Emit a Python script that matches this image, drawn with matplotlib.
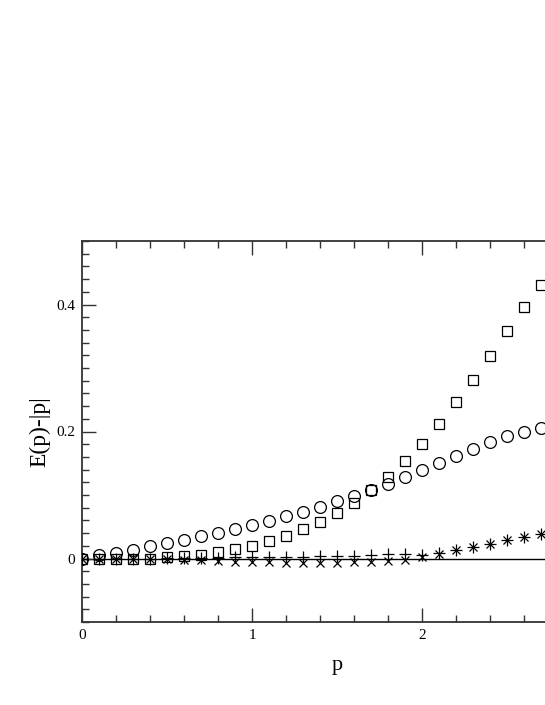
import numpy as np
import matplotlib.pyplot as plt
from matplotlib.ticker import MultipleLocator

p = np.round(np.arange(0, 2.75, 0.1), 1)

circles = [0.0, 0.006, 0.009, 0.014, 0.019, 0.024, 0.029, 0.035, 0.040, 0.047,
           0.052, 0.059, 0.067, 0.074, 0.081, 0.090, 0.099, 0.108, 0.118, 0.128,
           0.139, 0.150, 0.161, 0.172, 0.183, 0.193, 0.200, 0.206]
squares = [0.0, 0.0, 0.0, 0.0, 0.0, 0.003, 0.004, 0.006, 0.010, 0.015,
           0.020, 0.027, 0.035, 0.046, 0.057, 0.071, 0.088, 0.108, 0.129, 0.153,
           0.181, 0.212, 0.246, 0.281, 0.319, 0.358, 0.396, 0.430]
plus = [0.0, 0.0, 0.0, 0.0, 0.0, 0.0005, 0.001, 0.001, 0.0015, 0.002,
        0.002, 0.0025, 0.003, 0.003, 0.0035, 0.004, 0.004, 0.006, 0.007, 0.007,
        0.006, 0.008, 0.013, 0.018, 0.023, 0.029, 0.034, 0.039]
crosses = [0.0, 0.0, 0.0, 0.0, 0.0, -0.001, -0.002, -0.003, -0.004, -0.005,
           -0.006, -0.006, -0.007, -0.007, -0.007, -0.007, -0.006, -0.005, -0.004, -0.002,
           0.003, 0.007, 0.013, 0.018, 0.023, 0.029, 0.034, 0.039]

x_ticks = [0, 1, 2]
y_ticks = [0, 0.2, 0.4]

plt.rcParams["font.family"] = ["Liberation Serif", "DejaVu Serif"]

fig = plt.figure(figsize=(5.45, 7.05), dpi=100)
# axes run past the right edge of the figure, like the original
ax = fig.add_axes([82 / 545, 1 - 622 / 705, 510 / 545, 381 / 705])

ax.axhline(0, color="black", linewidth=1.0, zorder=1)

ax.plot(p, circles, "o", mfc="none", mec="black", ms=8.5, mew=0.9, zorder=3)
ax.plot(p, squares, "s", mfc="none", mec="black", ms=6.5, mew=0.9, zorder=3)
ax.plot(p, plus, "+", color="black", ms=8, mew=0.9, zorder=3)
ax.plot(p, crosses, "x", color="black", ms=6, mew=0.9, zorder=3)

ax.set_xlim(0, 3)
ax.set_ylim(-0.1, 0.5)

ax.xaxis.set_minor_locator(MultipleLocator(0.2))
ax.yaxis.set_minor_locator(MultipleLocator(0.02))
ax.set_xticks(x_ticks)
ax.set_xticklabels([str(t) for t in x_ticks])
ax.set_yticks(y_ticks)
ax.set_yticklabels(["0", "0.2", "0.4"])

ax.tick_params(which="both", direction="in", top=True, right=True,
               labelsize=11, width=1.0, color="#333333")
ax.tick_params(which="major", length=10, pad=5)
ax.tick_params(which="minor", length=5)

for s in ax.spines.values():
    s.set_linewidth(1.3)
    s.set_color("#333333")

ax.set_xlabel("p", fontsize=16, labelpad=10)
ax.set_ylabel("E(p)-|p|", fontsize=17, labelpad=4)

fig.savefig("out.png", dpi=100)
